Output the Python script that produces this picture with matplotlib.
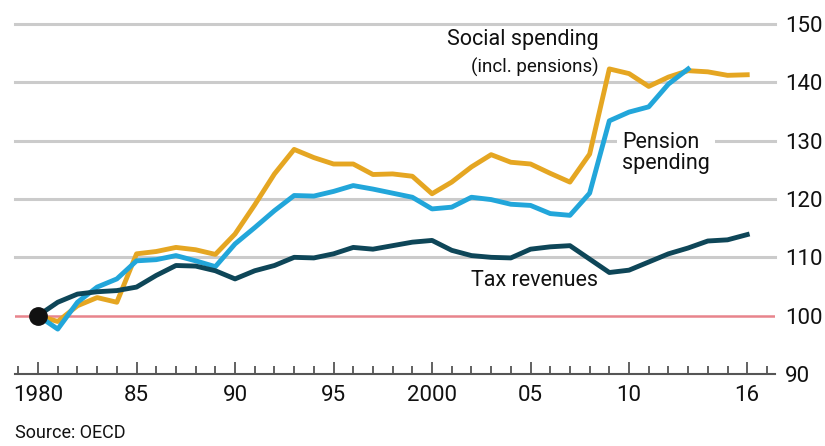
import matplotlib
matplotlib.use("Agg")
import matplotlib.pyplot as plt
from matplotlib.ticker import MultipleLocator, FixedLocator

years = list(range(1980, 2017))

social_spending = [100.0, 99.0, 101.7, 103.1, 102.3, 110.6, 111.0, 111.7, 111.3, 110.5,
                   114.0, 119.0, 124.3, 128.5, 127.1, 126.0, 126.0, 124.2, 124.3, 123.9,
                   120.9, 122.9, 125.5, 127.6, 126.3, 126.0, 124.4, 122.9, 127.7, 142.3,
                   141.5, 139.3, 140.9, 142.0, 141.8, 141.2, 141.3]

pension_years = list(range(1980, 2014))
pension_spending = [100.0, 97.7, 102.3, 104.9, 106.3, 109.4, 109.6, 110.3, 109.4, 108.4,
                    112.3, 115.1, 118.0, 120.6, 120.5, 121.3, 122.3, 121.7, 121.0, 120.3,
                    118.3, 118.6, 120.3, 119.9, 119.1, 118.9, 117.5, 117.2, 121.0, 133.4,
                    134.9, 135.8, 139.7, 142.3]

tax_revenues = [100.0, 102.3, 103.7, 104.1, 104.3, 104.9, 106.9, 108.6, 108.5, 107.7,
                106.3, 107.7, 108.6, 110.0, 109.9, 110.6, 111.7, 111.4, 112.0, 112.6,
                112.9, 111.2, 110.3, 110.0, 109.9, 111.4, 111.8, 112.0, 109.7, 107.4,
                107.8, 109.2, 110.6, 111.6, 112.8, 113.0, 113.9]

grid_levels = [110, 120, 130, 140, 150]
y_ticks = [90, 100, 110, 120, 130, 140, 150]
x_label_years = [1980, 1985, 1990, 1995, 2000, 2005, 2010, 2016]
x_labels = ["1980", "85", "90", "95", "2000", "05", "10", "16"]

GOLD = "#E5A622"
BLUE = "#22A6DA"
DARK = "#0E4658"
FONT = ["Roboto", "DejaVu Sans"]
plt.rcParams["font.family"] = FONT

fig = plt.figure(figsize=(8.25, 4.46), dpi=100)
W, H = 825, 446
left_px, right_px, top_px, bot_px = 15, 775, 24, 374
ax = fig.add_axes([left_px / W, 1 - bot_px / H, (right_px - left_px) / W, (bot_px - top_px) / H])

ax.set_xlim(1978.83, 2017.41)
ax.set_ylim(90, 150)

for g in grid_levels:
    ax.axhline(g, color="#cbcbcb", lw=2.2, zorder=1, clip_on=False)
ax.axhline(100, color="#E8848C", lw=1.8, zorder=1)

ax.plot(years, social_spending, color=GOLD, lw=3.5, zorder=3, solid_joinstyle="round", clip_on=False)
ax.plot(pension_years, pension_spending, color=BLUE, lw=3.5, zorder=4, solid_joinstyle="round", clip_on=False)
ax.plot(years, tax_revenues, color=DARK, lw=3.5, zorder=5, solid_joinstyle="round", clip_on=False)
ax.plot([years[0]], [tax_revenues[0]], "o", color="#111111", ms=12.5, zorder=6, clip_on=False)

for s in ["top", "left", "right"]:
    ax.spines[s].set_visible(False)
ax.spines["bottom"].set_color("#555555")
ax.spines["bottom"].set_linewidth(1.5)

ax.xaxis.set_major_locator(FixedLocator(x_label_years))
ax.set_xticklabels(x_labels)
ax.xaxis.set_minor_locator(MultipleLocator(1))
ax.tick_params(axis="x", which="major", direction="in", length=9, width=1.3,
               color="#555555", labelsize=16, pad=8, labelcolor="#111111")
ax.tick_params(axis="x", which="minor", direction="in", length=6, width=1.3, color="#555555")

ax.yaxis.tick_right()
ax.set_yticks(y_ticks)
ax.tick_params(axis="y", which="both", length=0, labelsize=16, pad=7, labelcolor="#111111")

ax.text(2008.45, 147.3, "Social spending", ha="right", va="center", fontsize=15.5, color="#111111", zorder=7)
ax.text(2008.45, 142.5, "(incl. pensions)", ha="right", va="center", fontsize=13.5, color="#111111", zorder=7)
ax.text(2009.65, 127.9, "Pension\nspending", ha="left", va="center", fontsize=15.5, color="#111111",
        linespacing=1.0, zorder=7,
        bbox=dict(boxstyle="square,pad=0.25", fc="white", ec="none"))
ax.text(2008.45, 106.0, "Tax revenues", ha="right", va="center", fontsize=15.5, color="#111111", zorder=7)

fig.text(15 / W, 1 - 433 / H, "Source: OECD", ha="left", va="center", fontsize=13, color="#111111")

fig.savefig("out.png", dpi=100, facecolor="white")
